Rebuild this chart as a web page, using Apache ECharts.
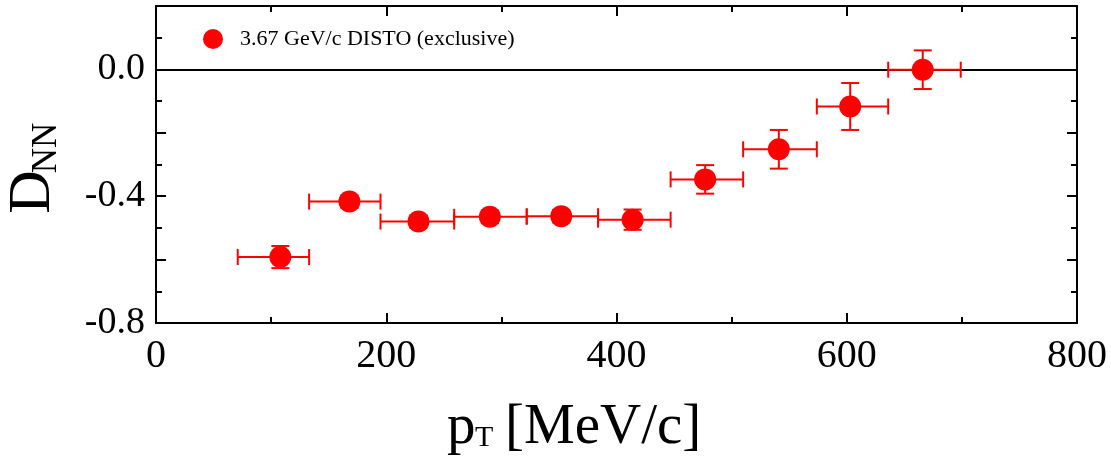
<!DOCTYPE html>
<html>
<head>
<meta charset="utf-8">
<script src="https://cdn.jsdelivr.net/npm/echarts@6/dist/echarts.min.js"></script>
<style>
html,body{margin:0;padding:0;background:#fff;}
#c{width:1111px;height:461px;}
</style>
</head>
<body>
<div id="c"></div>
<script>
// Data
const seriesName = '3.67 GeV/c DISTO (exclusive)';
const pT     = [108, 168, 228, 290, 352, 414, 477, 541, 603, 666];
const dnn    = [-0.592, -0.417, -0.480, -0.465, -0.463, -0.474, -0.347, -0.252, -0.117, -0.001];
const pTLow  = [71, 133, 195, 259, 322, 384, 447, 510, 574, 636];
const pTHigh = [133, 195, 259, 322, 384, 447, 510, 574, 636, 699];
const dnnErr = [0.035, 0.02, 0.02, 0.02, 0.02, 0.032, 0.045, 0.061, 0.074, 0.061];
const xTicks = [0, 200, 400, 600, 800];
const yTickLabels = ['-0.8', '-0.4', '0.0'];

const FONT = 'Liberation Serif';
const RED = '#ff0000';

const points = pT.map((x, i) => [x, dnn[i]]);
const errs = pT.map((x, i) => [x, dnn[i], pTLow[i], pTHigh[i], dnnErr[i]]);

const chart = echarts.init(document.getElementById('c'), null, {renderer: 'canvas'});

function errRender(params, api) {
  const x = api.value(0), y = api.value(1), xl = api.value(2), xh = api.value(3), e = api.value(4);
  const pL = api.coord([xl, y]);
  const pH = api.coord([xh, y]);
  const pB = api.coord([x, y - e]);
  const pTop = api.coord([x, y + e]);
  const capH = 8, capW = 9;
  const st = {stroke: RED, lineWidth: 2};
  const L = (x1, y1, x2, y2) => ({type: 'line', shape: {x1, y1, x2, y2}, style: st});
  return {
    type: 'group',
    children: [
      L(pL[0], pL[1], pH[0], pH[1]),
      L(pL[0], pL[1] - capH, pL[0], pL[1] + capH),
      L(pH[0], pH[1] - capH, pH[0], pH[1] + capH),
      L(pB[0], pB[1], pTop[0], pTop[1]),
      L(pB[0] - capW, pB[1], pB[0] + capW, pB[1]),
      L(pTop[0] - capW, pTop[1], pTop[0] + capW, pTop[1])
    ]
  };
}

const axisLine = {show: true, onZero: false, lineStyle: {color: '#000', width: 2}};

const option = {
  backgroundColor: '#fff',
  animation: false,
  grid: {left: 156, right: 34, top: 6, bottom: 138, containLabel: false},
  legend: {
    show: true,
    data: [{name: seriesName, icon: 'circle'}],
    left: 198, top: 23,
    itemWidth: 20, itemHeight: 20,
    selectedMode: false,
    textStyle: {fontFamily: FONT, fontSize: 22, color: '#000', padding: [0, 0, 0, 12]}
  },
  xAxis: [{
    type: 'value', min: 0, max: 800, interval: 200,
    position: 'bottom',
    axisLine: axisLine,
    axisTick: {show: true, inside: true, length: 10, lineStyle: {color: '#000', width: 2}},
    minorTick: {show: true, splitNumber: 2, length: 6, lineStyle: {color: '#000', width: 2}},
    splitLine: {show: false},
    axisLabel: {
      show: true, margin: 13, color: '#000', fontFamily: FONT, fontSize: 40,
      formatter: v => xTicks.indexOf(v) >= 0 ? String(v) : ''
    }
  }, {
    type: 'value', min: 0, max: 800, interval: 200,
    position: 'top',
    axisLine: axisLine,
    axisTick: {show: true, inside: true, length: 10, lineStyle: {color: '#000', width: 2}},
    minorTick: {show: true, splitNumber: 2, length: 6, lineStyle: {color: '#000', width: 2}},
    splitLine: {show: false},
    axisLabel: {show: false}
  }],
  yAxis: [{
    type: 'value', min: -0.8, max: 0.2, interval: 0.2,
    position: 'left',
    axisLine: axisLine,
    axisTick: {show: true, inside: true, length: 10, lineStyle: {color: '#000', width: 2}},
    minorTick: {show: true, splitNumber: 2, length: 6, lineStyle: {color: '#000', width: 2}},
    splitLine: {show: false},
    axisLabel: {
      show: true, margin: 11, color: '#000', fontFamily: FONT, fontSize: 38,
      formatter: v => {
        const s = (Math.abs(v) < 1e-9 ? 0 : v).toFixed(1);
        return yTickLabels.indexOf(s) >= 0 ? s : '';
      }
    }
  }, {
    type: 'value', min: -0.8, max: 0.2, interval: 0.2,
    position: 'right',
    axisLine: axisLine,
    axisTick: {show: true, inside: true, length: 10, lineStyle: {color: '#000', width: 2}},
    minorTick: {show: true, splitNumber: 2, length: 6, lineStyle: {color: '#000', width: 2}},
    splitLine: {show: false},
    axisLabel: {show: false}
  }],
  graphic: [
    {type: 'text', x: 33, y: 192, rotation: Math.PI / 2,
     style: {text: 'D', fontFamily: FONT, fontSize: 60, fill: '#000', align: 'center', verticalAlign: 'middle'}},
    {type: 'text', x: 47, y: 148, rotation: Math.PI / 2,
     style: {text: 'NN', fontFamily: FONT, fontSize: 35, fill: '#000', align: 'center', verticalAlign: 'middle'}},
    {type: 'text', x: 447, y: 428,
     style: {text: 'p', fontFamily: FONT, fontSize: 57, fill: '#000', align: 'left', verticalAlign: 'middle'}},
    {type: 'text', x: 475, y: 438,
     style: {text: 'T', fontFamily: FONT, fontSize: 30, fill: '#000', align: 'left', verticalAlign: 'middle'}},
    {type: 'text', x: 505, y: 428,
     style: {text: '[MeV/c]', fontFamily: FONT, fontSize: 57, fill: '#000', align: 'left', verticalAlign: 'middle'}}
  ],
  series: [{
    name: 'errors',
    type: 'custom',
    renderItem: errRender,
    data: errs,
    z: 3,
    silent: true,
    encode: {x: 0, y: 1}
  }, {
    name: seriesName,
    type: 'scatter',
    data: points,
    symbol: 'circle',
    symbolSize: 22,
    itemStyle: {color: RED, opacity: 1},
    z: 4,
    markLine: {
      silent: true, symbol: 'none', label: {show: false},
      lineStyle: {color: '#000', width: 2, type: 'solid'},
      data: [{yAxis: 0}],
      z: 2
    }
  }]
};
chart.setOption(option);
</script>
</body>
</html>
